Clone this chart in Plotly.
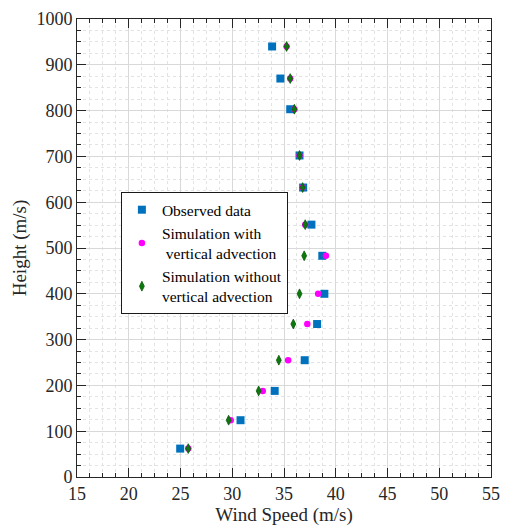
import plotly.graph_objects as go

# Heights of the profile levels (m)
heights = [62, 124, 188, 255, 334, 400, 483, 551, 632, 702, 803, 870, 940]

# Wind speed profiles (m/s)
observed = [24.97, 30.8, 34.1, 37.0, 38.2, 38.9, 38.7, 37.65, 36.85, 36.5, 35.6, 34.65, 33.85]
sim_with_adv = [25.75, 29.85, 32.95, 35.4, 37.25, 38.3, 39.05, 37.05, 36.8, 36.5, 36.0, 35.6, 35.25]
sim_without_adv = [25.75, 29.65, 32.55, 34.5, 35.9, 36.5, 36.95, 37.05, 36.8, 36.5, 36.0, 35.6, 35.25]

x_ticks = [15, 20, 25, 30, 35, 40, 45, 50, 55]
y_ticks = [0, 100, 200, 300, 400, 500, 600, 700, 800, 900, 1000]

SERIF = "Liberation Serif"
AXIS_COLOR = "#262626"

fig = go.Figure()
fig.add_trace(go.Scatter(
    x=observed, y=heights, mode="markers", name="Observed data",
    marker=dict(symbol="square", size=8, color="#0072BD"),
))
fig.add_trace(go.Scatter(
    x=sim_with_adv, y=heights, mode="markers",
    name="Simulation with<br> vertical advection",
    marker=dict(symbol="circle", size=6.5, color="#FF00FF"),
))
fig.add_trace(go.Scatter(
    x=sim_without_adv, y=heights, mode="markers",
    name="Simulation without<br>vertical advection",
    marker=dict(symbol="diamond-tall", size=7, color="#0B7A0B",
                line=dict(width=0.8, color="#0a5a0a")),
))

axis_common = dict(
    showline=True, linecolor=AXIS_COLOR, linewidth=1, mirror="allticks",
    ticks="inside", ticklen=9, tickcolor=AXIS_COLOR,
    showgrid=True, gridcolor="#d9d9d9", gridwidth=1,
    zeroline=False,
    tickfont=dict(family=SERIF, size=18, color=AXIS_COLOR),
)

fig.update_xaxes(
    range=[15, 55], tickmode="array", tickvals=x_ticks,
    title=dict(text="Wind Speed (m/s)", font=dict(family=SERIF, size=19, color=AXIS_COLOR), standoff=5),
    minor=dict(dtick=1.25, ticks="inside", ticklen=4, tickcolor=AXIS_COLOR,
               showgrid=True, gridcolor="#e3e3e3", griddash="dot", gridwidth=1),
    **axis_common,
)
fig.update_yaxes(
    range=[0, 1000], tickmode="array", tickvals=y_ticks,
    title=dict(text="Height (m/s)", font=dict(family=SERIF, size=19, color=AXIS_COLOR), standoff=4),
    minor=dict(dtick=25, ticks="inside", ticklen=4, tickcolor=AXIS_COLOR,
               showgrid=True, gridcolor="#e3e3e3", griddash="dot", gridwidth=1),
    **axis_common,
)

fig.update_layout(
    width=509, height=531,
    margin=dict(l=77, r=9, t=17, b=51),
    paper_bgcolor="white", plot_bgcolor="white",
    font=dict(family=SERIF, size=18, color=AXIS_COLOR),
    showlegend=True,
    legend=dict(
        x=0.106, y=0.622, xanchor="left", yanchor="top",
        bgcolor="white", bordercolor="#1a1a1a", borderwidth=1,
        font=dict(family=SERIF, size=15.5, color="black"),
        tracegroupgap=0, itemwidth=30,
    ),
)

fig.write_html("out.html")
